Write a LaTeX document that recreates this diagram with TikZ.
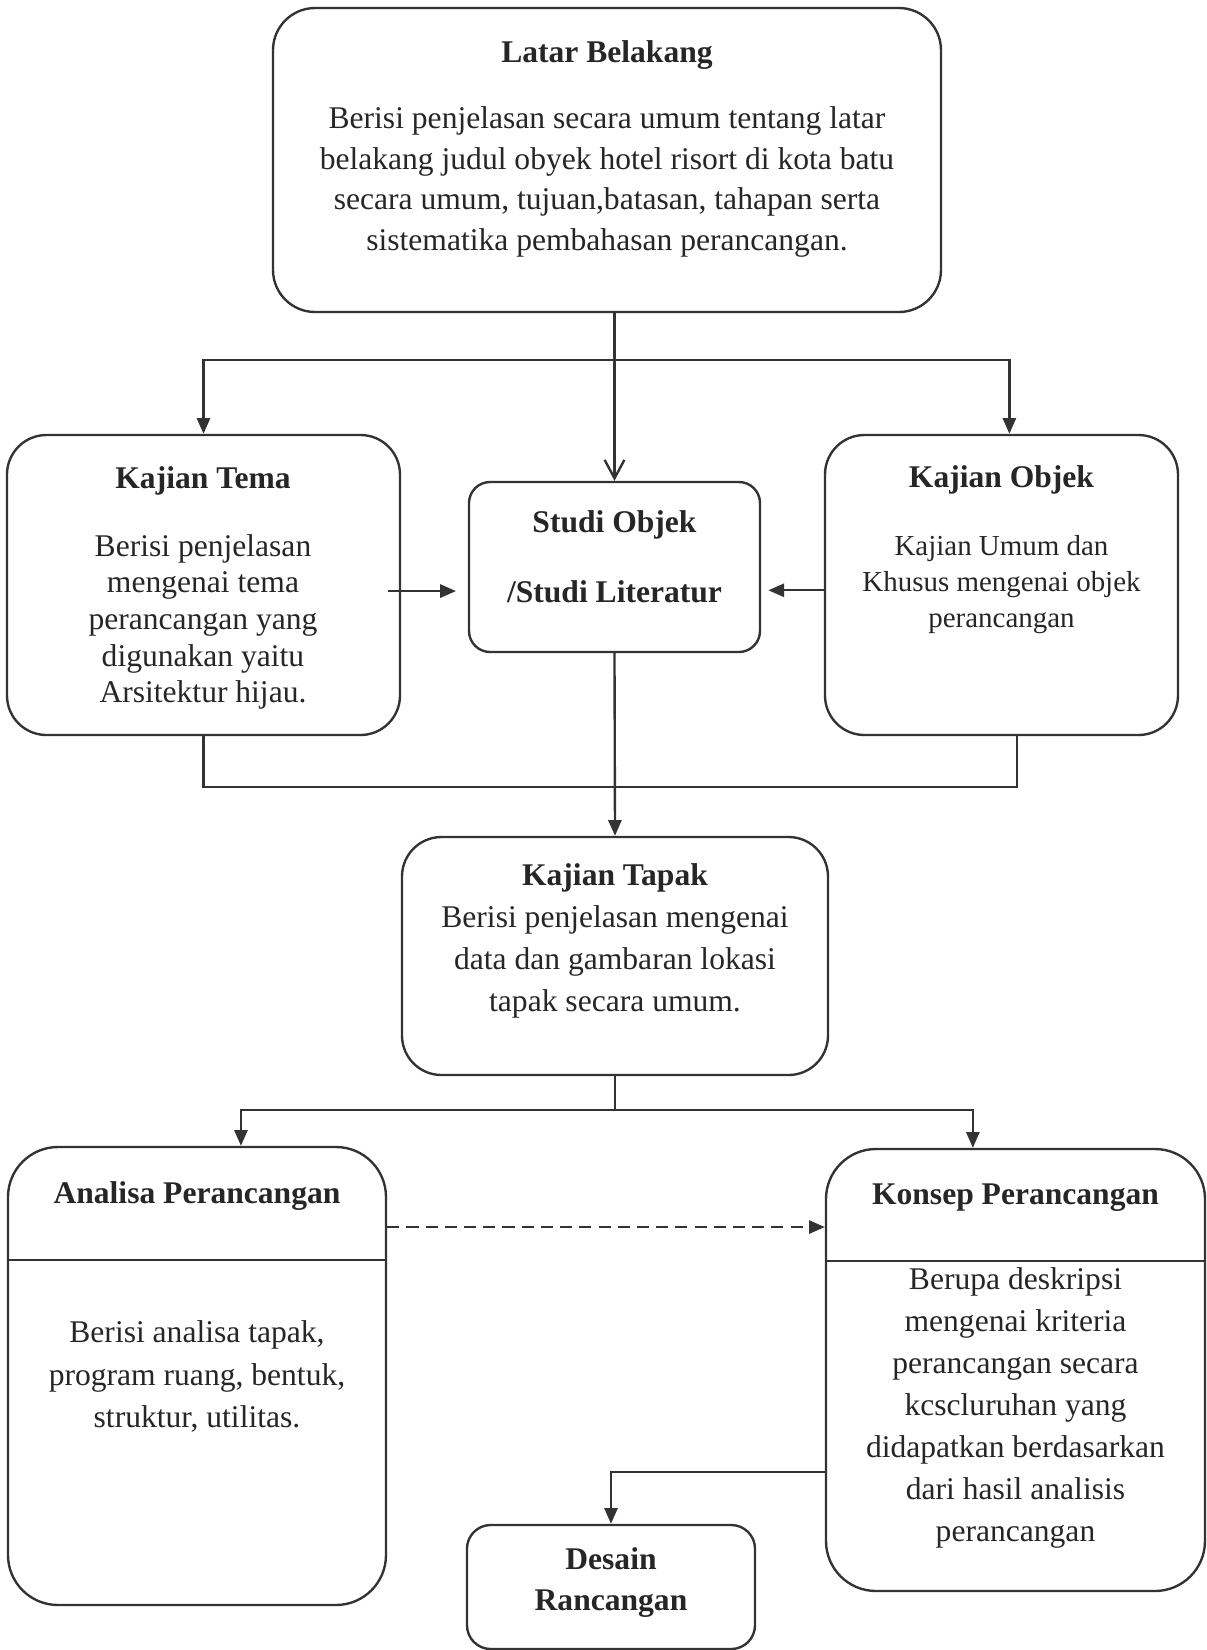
\documentclass[tikz,border=0pt]{standalone}
\usepackage{fontspec}
\setmainfont{Liberation Serif}
\usetikzlibrary{arrows.meta, positioning, fit}
\tikzset{
  x=0.38pt, y=-0.38pt, % one unit is one pixel of the scan, y runs down
  box/.style={draw=black!80, line width=0.9pt, rounded corners=15pt,
    inner sep=0pt}, % frame of a stage
  txt/.style={align=center, inner sep=0pt, text=black!85}, % text in a frame
  line/.style={draw=black!80, line width=0.9pt}, % plain connector
  arrow/.style={line, -{Triangle[length=6pt, width=5pt]}}, % filled head
}

\begin{document}
\begin{tikzpicture}
    \useasboundingbox (0,0) rectangle (1207,1650);

    % frames
    \node[box, rounded corners=16pt, fit={(273,8) (941,312)}] (latar) {};
    \node[box, fit={(7,435) (400,735)}] (tema) {};
    \node[box, rounded corners=8pt, fit={(469,482) (760,652)}] (studi) {};
    \node[box, fit={(825,435) (1178,735)}] (objek) {};
    \node[box, fit={(402,837) (828,1075)}] (tapak) {};
    \node[box, rounded corners=19pt, fit={(8,1147) (386,1605)}] (analisa) {};
    \node[box, rounded corners=19pt, fit={(826,1149) (1205,1591)}] (konsep) {};
    \node[box, rounded corners=9pt, fit={(467,1525) (755,1649)}] (desain) {};

    % texts
    \node[txt, font=\fontsize{12}{15.4}\selectfont] (latar-txt) at (607,149)
    {\textbf{Latar Belakang}\\[9.7pt] Berisi penjelasan secara umum tentang latar\\
      belakang judul obyek hotel risort di kota batu\\ secara umum,
    tujuan,batasan, tahapan serta\\ sistematika pembahasan perancangan.};
    \node[txt, font=\fontsize{12}{13.9}\selectfont] (tema-txt) at (203,588)
    {\textbf{Kajian Tema}\\[11.9pt] Berisi penjelasan\\ mengenai tema\\
    perancangan yang\\ digunakan yaitu\\ Arsitektur hijau.};
    \node[txt, font=\fontsize{12}{15.6}\selectfont\bfseries] (studi-txt)
    at (614.5,557) {Studi Objek\\[11pt]/Studi Literatur};
    \node[txt, font=\fontsize{11}{13.7}\selectfont] (objek-txt) at (1001.5,550)
    {{\fontsize{12}{13.7}\selectfont\bfseries Kajian Objek}\\[12pt] Kajian Umum
    dan\\ Khusus mengenai objek\\ perancangan};
    \node[txt, font=\fontsize{12}{16}\selectfont] (tapak-txt) at (615,941)
    {\textbf{Kajian Tapak}\\ Berisi penjelasan mengenai\\ data dan gambaran
    lokasi\\ tapak secara umum.};
    \node[txt, font=\fontsize{12}{16}\selectfont\bfseries] (analisa-title)
    at (197,1196) {Analisa Perancangan};
    \node[txt, font=\fontsize{12}{16.3}\selectfont] (analisa-txt) at (197,1376.5)
    {Berisi analisa tapak,\\ program ruang, bentuk,\\ struktur, utilitas.};
    \node[txt, font=\fontsize{12}{16}\selectfont\bfseries] (konsep-title)
    at (1015.5,1198) {Konsep Perancangan};
    \node[txt, font=\fontsize{12}{16}\selectfont] (konsep-txt) at (1015.5,1408)
    {Berupa deskripsi\\ mengenai kriteria\\ perancangan secara\\ kcscluruhan
    yang\\ didapatkan berdasarkan\\ dari hasil analisis\\ perancangan};
    \node[txt, font=\fontsize{12}{15.6}\selectfont\bfseries] (desain-txt)
    at (611,1582.5) {Desain\\ Rancangan};

    % dividers
    \draw[line] ([yshift=-43.3pt]analisa.north west) -- ([yshift=-43.3pt]analisa.north east);
    \draw[line] ([yshift=-43pt]konsep.north west) -- ([yshift=-43pt]konsep.north east);

    % connectors
    \coordinate (split) at (614.5,360);
    \coordinate (join) at (614.5,787);
    \coordinate (split2) at (615,1110);

    \draw[line, -{Straight Barb[length=7pt, width=7.5pt]}] (latar.south -| studi.north) -- (studi.north);
    \draw[arrow] (split) -| (tema.north);
    \draw[arrow] (split) -| ([xshift=3pt]objek.north);
    \draw[arrow, shorten <=-5pt, shorten >=4.5pt] ([yshift=-2.3pt]tema.east)
    -- ([yshift=-2.3pt]tema.east -| studi.west);
    \draw[arrow, shorten >=2.7pt] ([yshift=-2pt]objek.west)
    -- ([yshift=-2pt]objek.west -| studi.east);
    \draw[line] (tema.south) |- (join) -| ([xshift=6pt]objek.south);
    \draw[arrow] (studi.south) -- (tapak.north);
    \draw[line] (tapak.south) -- (split2);
    \draw[arrow] (split2) -| ([xshift=16.7pt]analisa.north);
    \draw[arrow] (split2) -| ([xshift=-16.2pt]konsep.north);
    \draw[arrow, dash pattern=on 4.6pt off 2.7pt] ([yshift=56.6pt]analisa.east)
    -- ([yshift=56.6pt]analisa.east -| konsep.west);
    \draw[arrow] ([yshift=-38.8pt]konsep.west) -| (desain.north);
\end{tikzpicture}
\end{document}
